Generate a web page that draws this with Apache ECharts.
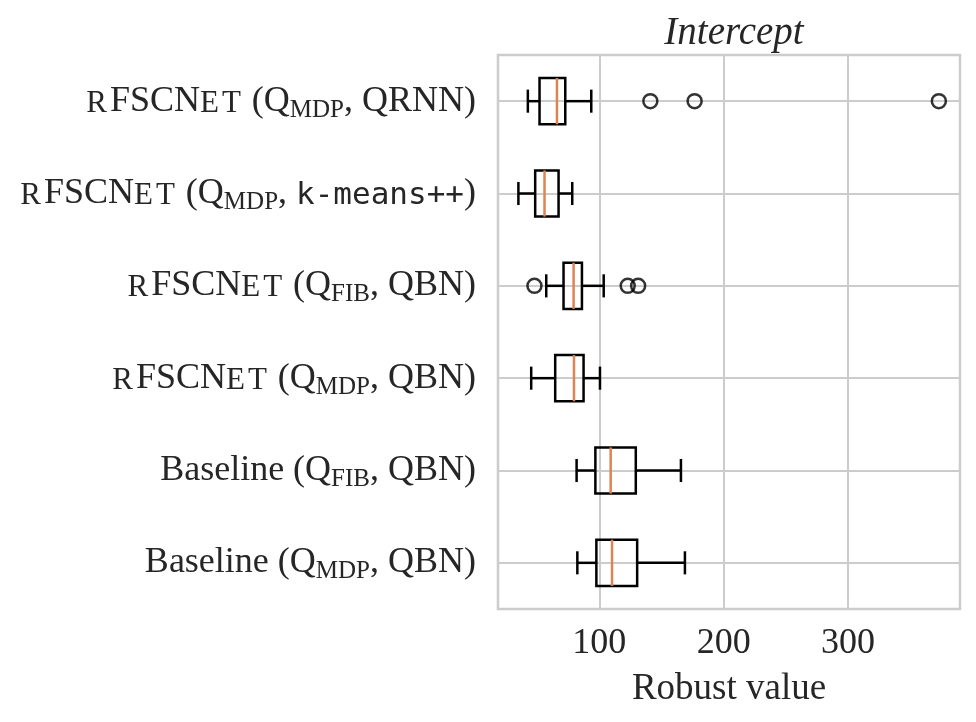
<!DOCTYPE html>
<html>
<head>
<meta charset="utf-8">
<script src="https://cdn.jsdelivr.net/npm/echarts@6/dist/echarts.min.js"></script>
<style>
  html, body { margin: 0; padding: 0; background: #fff; }
  #chart { width: 976px; height: 722px; }
</style>
</head>
<body>
<div id="chart"></div>
<script>
// categories, top to bottom
const categories = [
  'rFSCNet (Q_MDP, QRNN)',
  'rFSCNet (Q_MDP, k-means++)',
  'rFSCNet (Q_FIB, QBN)',
  'rFSCNet (Q_MDP, QBN)',
  'Baseline (Q_FIB, QBN)',
  'Baseline (Q_MDP, QBN)'
];
const whiskerLo = [42.5, 34.9, 57.3, 45.2, 81.7, 82.3];
const quart1 = [51.9, 48.4, 71.2, 64.5, 96.8, 97.6];
const medians = [65.9, 55.9, 79.3, 79.6, 109.1, 110.2];
const quart3 = [72.6, 67.2, 86.0, 87.3, 129.3, 130.4];
const whiskerHi = [93.5, 78.2, 103.5, 100.5, 165.6, 168.8];
// fliers
const outlierCat = [0, 0, 0, 2, 2, 2];
const outlierVal = [141, 176.6, 373, 47.8, 122.8, 131.2];
const xTicks = [100, 200, 300];

const textColor = '#262626';
const serif = '"Liberation Serif", "DejaVu Serif", serif';

// build rich text for the y labels
function richLabel(name) {
  let s = name.replace(/[{}]/g, '');
  s = s.replace('rFSCNet', '{sc|R}{n|FSCN}{sc|E}{scEnd|T}');
  s = s.replace(/Q_([A-Z]+)/, '{n|Q}{sub|$1}');
  s = s.replace('k-means++', '{tt|k-means++}');
  // wrap leftover plain pieces
  return s.split(/(\{[a-zA-Z]+\|[^}]*\})/).filter(p => p).map(p => p.startsWith('{') ? p : '{n|' + p + '}').join('');
}

const boxData = categories.map((c, i) => [i, whiskerLo[i], quart1[i], medians[i], quart3[i], whiskerHi[i]]);
const fliers = outlierVal.map((v, i) => [v, outlierCat[i]]);

function renderBox(params, api) {
  const c = api.value(0);
  const lo = api.coord([api.value(1), c]);
  const q1 = api.coord([api.value(2), c]);
  const md = api.coord([api.value(3), c]);
  const q3 = api.coord([api.value(4), c]);
  const hi = api.coord([api.value(5), c]);
  const band = api.size([0, 1])[1];
  const bh = band * 0.25;
  const ch = band * 0.125;
  const y = lo[1];
  const st = {stroke: '#000', lineWidth: 2.5, fill: null};
  return {
    type: 'group',
    children: [
      {type: 'line', shape: {x1: lo[0], y1: y, x2: q1[0], y2: y}, style: st},
      {type: 'line', shape: {x1: q3[0], y1: y, x2: hi[0], y2: y}, style: st},
      {type: 'line', shape: {x1: lo[0], y1: y - ch, x2: lo[0], y2: y + ch}, style: st},
      {type: 'line', shape: {x1: hi[0], y1: y - ch, x2: hi[0], y2: y + ch}, style: st},
      {type: 'rect', shape: {x: q1[0], y: y - bh, width: q3[0] - q1[0], height: bh * 2}, style: st},
      {type: 'line', shape: {x1: md[0], y1: y - bh, x2: md[0], y2: y + bh}, style: {stroke: '#dd8452', lineWidth: 2.5}}
    ]
  };
}

const chart = echarts.init(document.getElementById('chart'));
chart.setOption({
  animation: false,
  backgroundColor: '#fff',
  title: {
    text: 'Intercept',
    left: 729,
    textAlign: 'center',
    top: 9,
    textStyle: {fontFamily: serif, fontStyle: 'italic', fontWeight: 'normal', fontSize: 39, color: textColor}
  },
  grid: {
    left: 498, right: 16, top: 55, bottom: 113,
    show: true, borderColor: '#cccccc', borderWidth: 2.5
  },
  xAxis: {
    type: 'value',
    min: 18.5,
    max: 390,
    name: 'Robust value',
    nameLocation: 'middle',
    nameGap: 62,
    nameTextStyle: {fontFamily: serif, fontSize: 37, color: textColor},
    axisLine: {show: false},
    axisTick: {show: false, customValues: xTicks},
    splitLine: {show: false},
    axisLabel: {
      customValues: xTicks,
      margin: 17,
      fontFamily: serif, fontSize: 36, color: textColor
    }
  },
  yAxis: {
    type: 'category',
    data: categories,
    inverse: true,
    axisLine: {show: false},
    axisTick: {show: false},
    splitLine: {show: false},
    axisLabel: {
      interval: 0,
      margin: 22,
      fontFamily: serif, fontSize: 36, color: textColor,
      formatter: richLabel,
      rich: {
        n: {fontFamily: serif, fontSize: 36, color: textColor},
        sc: {fontFamily: serif, fontSize: 31, color: textColor, padding: [5, 3, 0, 0]},
        scEnd: {fontFamily: serif, fontSize: 31, color: textColor, padding: [5, 2, 0, 0]},
        sub: {fontFamily: serif, fontSize: 25, color: textColor, padding: [18, 0, 0, 0]},
        tt: {fontFamily: '"DejaVu Sans Mono", monospace', fontSize: 31, color: textColor, padding: [4, 0, 0, 0]}
      }
    }
  },
  series: [
    {
      type: 'line',
      data: [],
      z: 1,
      silent: true,
      markLine: {
        silent: true,
        symbol: 'none',
        label: {show: false},
        lineStyle: {color: '#cccccc', width: 2, type: 'solid'},
        data: xTicks.map(v => ({xAxis: v})).concat(categories.map((c, i) => ({yAxis: i})))
      }
    },
    {
      type: 'custom',
      z: 5,
      renderItem: renderBox,
      encode: {x: [1, 2, 3, 4, 5], y: 0},
      data: boxData
    },
    {
      type: 'scatter',
      z: 6,
      symbol: 'circle',
      symbolSize: 14,
      itemStyle: {color: 'rgba(0,0,0,0)', borderColor: '#000', borderWidth: 2.5},
      data: fliers
    }
  ]
});
</script>
</body>
</html>
